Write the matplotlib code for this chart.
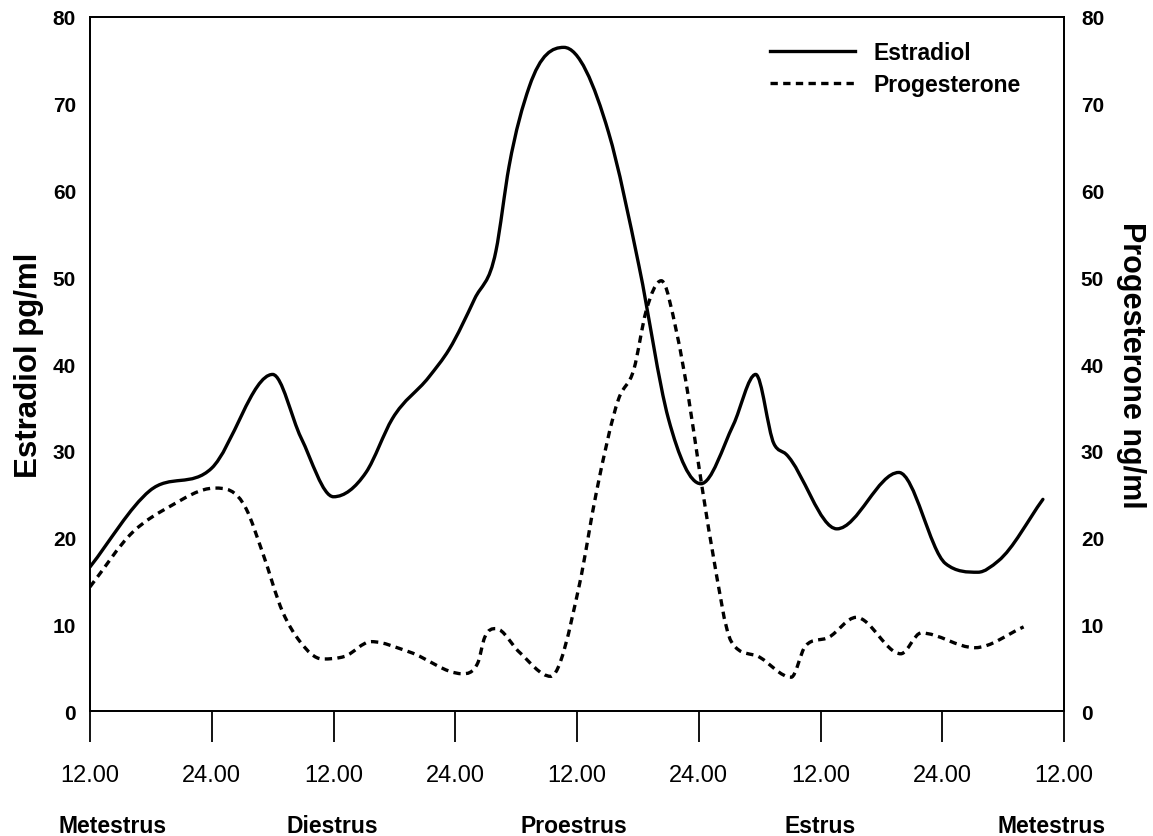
import numpy as np
import matplotlib
matplotlib.use("Agg")
import matplotlib.pyplot as plt
from matplotlib.path import Path
from matplotlib.patches import PathPatch
from matplotlib.lines import Line2D

# hours after 12.00 on day 1 (x axis spans 96 h)
estradiol_h = [0.0, 5.9, 12.0, 18.0, 20.8, 24.0, 27.2, 29.8, 33.4, 35.4, 37.9,
               40.0, 41.3, 43.3, 46.7, 51.1, 54.1, 57.0, 60.2, 63.4, 65.6, 67.4,
               68.6, 73.6, 79.7, 84.3, 87.5, 89.5, 93.9]
estradiol = [16.6, 25.4, 28.0, 38.8, 31.5, 24.7, 27.5, 33.7, 38.5, 41.7, 47.5,
             53.0, 62.8, 72.0, 76.5, 66.7, 51.3, 33.7, 26.2, 33.0, 38.8, 30.8,
             29.6, 21.0, 27.5, 17.0, 16.0, 17.3, 24.4]

progesterone_h = [0.0, 4.2, 7.9, 12.3, 15.4, 17.0, 19.0, 20.7, 22.9, 25.1, 27.7, 31.5,
                  36.7, 38.2, 38.9, 40.0, 42.3, 45.4, 48.2, 49.9, 52.1, 53.6, 54.8,
                  56.3, 57.8, 59.0, 60.0, 61.3, 63.2, 66.0, 69.1, 70.5, 72.8, 75.5,
                  79.9, 81.9, 87.2, 92.0]
progesterone = [14.3, 20.6, 23.6, 25.7, 23.3, 18.3, 11.4, 8.0, 6.0, 6.3, 8.0, 6.8,
                4.3, 5.5, 8.5, 9.5, 6.8, 4.0, 14.4, 25.2, 36.0, 39.4, 46.1,
                49.6, 43.7, 36.0, 28.2, 18.7, 8.0, 6.2, 3.9, 7.5, 8.5, 10.8,
                6.6, 9.0, 7.3, 9.7]

tick_hours = [0, 12, 24, 36, 48, 60, 72, 84, 96]
tick_labels = ["12.00", "24.00"] * 4 + ["12.00"]
stages = ["Metestrus", "Diestrus", "Proestrus", "Estrus", "Metestrus"]
stage_x = [2.2, 23.9, 47.7, 71.9, 94.8]

plt.rcParams["font.family"] = ["Liberation Sans", "DejaVu Sans"]
DASH = (0, (2.2, 1.6))


def smooth_path(xs, ys):
    # cubic Hermite curve through the points, as Bezier segments;
    # flat at peaks/troughs, slope-limited elsewhere so nothing overshoots
    x = np.asarray(xs, float)
    y = np.asarray(ys, float)
    h = np.diff(x)
    d = np.diff(y) / h
    m = np.zeros_like(y)
    m[0], m[-1] = d[0], d[-1]
    for i in range(1, len(x) - 1):
        if d[i - 1] * d[i] > 0:
            avg = (d[i - 1] * h[i] + d[i] * h[i - 1]) / (h[i - 1] + h[i])
            lim = 3 * min(abs(d[i - 1]), abs(d[i]))
            m[i] = np.sign(avg) * min(abs(avg), lim)
    verts = [(x[0], y[0])]
    codes = [Path.MOVETO]
    for i in range(len(h)):
        t = h[i] / 3
        verts += [(x[i] + t, y[i] + m[i] * t),
                  (x[i + 1] - t, y[i + 1] - m[i + 1] * t),
                  (x[i + 1], y[i + 1])]
        codes += [Path.CURVE4] * 3
    return Path(verts, codes)


fig = plt.figure(figsize=(11.53, 8.37), dpi=100)
ax = fig.add_axes([0.078, 0.1493, 0.845, 0.8292])
ax2 = ax.twinx()

ax.set_xlim(0, 96)
ax.set_ylim(0, 80)
ax2.set_ylim(0, 80)

ax.add_patch(PathPatch(smooth_path(estradiol_h, estradiol), fill=False,
                       lw=2.4, color="black", capstyle="round"))
ax2.add_patch(PathPatch(smooth_path(progesterone_h, progesterone), fill=False,
                        lw=2.4, color="black", linestyle=DASH))

for a in (ax, ax2):
    for s in a.spines.values():
        s.set_linewidth(1.3)

ax.set_xticks(tick_hours)
ax.set_xticklabels(tick_labels, fontsize=17)
ax.tick_params(axis="x", direction="out", length=22, width=1.3, pad=16)
ax.set_yticks(np.arange(0, 81, 10))
ax.tick_params(axis="y", length=0, pad=10)
ax2.set_yticks(np.arange(0, 81, 10))
ax2.tick_params(axis="y", length=0, pad=12)
for lab in ax.get_yticklabels() + ax2.get_yticklabels():
    lab.set_fontweight("bold")
    lab.set_fontsize(15)

ax.set_ylabel("Estradiol pg/ml", fontsize=22.5, fontweight="bold", labelpad=6)
ax2.set_ylabel("Progesterone ng/ml", fontsize=22, fontweight="bold",
               rotation=-90, labelpad=30)

for name, xh in zip(stages, stage_x):
    ax.text(xh, -0.165, name, transform=ax.get_xaxis_transform(), ha="center",
            va="center", fontsize=16.5, fontweight="bold")

handles = [Line2D([], [], color="black", lw=2.4),
           Line2D([], [], color="black", lw=2.4, linestyle=DASH)]
ax.legend(handles, ["Estradiol", "Progesterone"], loc="upper left",
          bbox_to_anchor=(0.698, 0.966), frameon=False, borderpad=0,
          borderaxespad=0, handlelength=3.7, handletextpad=0.8,
          labelspacing=0.43, prop={"weight": "bold", "size": 16.5})

fig.savefig("out.png", dpi=100)
